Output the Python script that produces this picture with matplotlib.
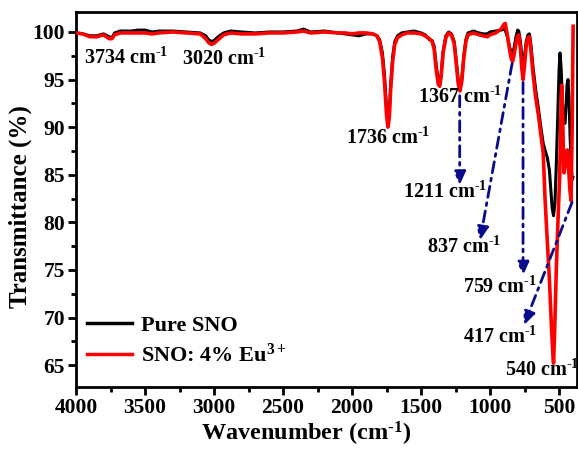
import matplotlib
matplotlib.use("Agg")
import matplotlib.pyplot as plt
from matplotlib.ticker import MultipleLocator

plt.rcParams['font.family'] = ['Liberation Serif', 'DejaVu Serif']
plt.rcParams['font.weight'] = 'bold'
plt.rcParams['mathtext.fontset'] = 'custom'
plt.rcParams['mathtext.rm'] = 'Liberation Serif:bold'
plt.rcParams['mathtext.bf'] = 'Liberation Serif:bold'
plt.rcParams['mathtext.it'] = 'Liberation Serif:bold'
plt.rcParams['mathtext.default'] = 'rm'

# ---------------- data ----------------
wn_pure = [4000, 3950, 3900, 3850, 3800, 3760, 3740, 3720, 3680, 3600, 3550, 3500,
           3450, 3400, 3300, 3200, 3100, 3060, 3040, 3020, 3000, 2970, 2930, 2880,
           2800, 2700, 2600, 2500, 2400, 2350, 2300, 2200, 2100, 2050, 2000, 1950,
           1900, 1850, 1820, 1800, 1780, 1765, 1750, 1740, 1730, 1720, 1705, 1690,
           1670, 1640, 1600, 1550, 1500, 1470, 1440, 1420, 1405, 1390, 1375, 1365,
           1355, 1340, 1320, 1300, 1280, 1260, 1245, 1230, 1218, 1205, 1190, 1175,
           1160, 1120, 1080, 1050, 1020, 1000, 960, 920, 900, 890, 875, 860, 848,
           837, 826, 812, 800, 792, 780, 770, 761, 750, 738, 725, 715, 705, 690,
           670, 650, 630, 615, 600, 585, 570, 560, 550, 540, 530, 520, 510, 500,
           493, 485, 475, 465, 457, 450, 442, 435, 428, 420, 412, 405, 400]
t_pure = [99.9, 99.8, 99.6, 99.6, 99.8, 99.5, 99.4, 99.9, 100.1, 100.1, 100.2, 100.2,
          100.0, 100.1, 100.1, 100.0, 99.9, 99.6, 99.2, 99.0, 99.1, 99.5, 99.9, 100.1,
          100.0, 99.9, 100.0, 100.0, 100.1, 100.3, 100.0, 100.1, 99.9, 99.8, 99.7, 99.6,
          99.8, 99.8, 99.6, 99.2, 97.8, 95.5, 92.0, 90.5, 91.5, 94.5, 97.5, 99.0,
          99.6, 99.9, 100.0, 100.1, 99.9, 99.7, 99.2, 99.1, 98.5, 96.5, 94.8, 94.5,
          95.5, 98.0, 99.6, 100.0, 99.8, 99.0, 97.0, 94.8, 94.0, 95.0, 97.5, 99.2,
          99.9, 100.1, 99.9, 99.8, 99.8, 100.0, 100.1, 100.2, 100.3, 100.2, 99.5, 98.5, 97.9,
          97.8, 98.3, 99.5, 100.2, 100.1, 99.0, 97.5, 96.7, 97.5, 99.0, 99.7, 99.8, 98.8, 96.5,
          94.0, 92.0, 89.8, 88.3, 87.5, 86.8, 85.5, 83.5, 81.5, 80.7, 82.0, 86.0, 91.0, 96.0,
          97.8, 96.2, 92.5, 90.6, 90.4, 92.0, 94.5, 95.0, 93.0, 89.0, 86.0, 84.5, 84.7]

wn_eu = [4000, 3950, 3900, 3850, 3800, 3760, 3740, 3720, 3680, 3600, 3550, 3500,
         3450, 3400, 3300, 3200, 3100, 3060, 3040, 3020, 3000, 2970, 2930, 2880,
         2800, 2700, 2600, 2500, 2400, 2350, 2300, 2200, 2100, 2050, 2000, 1950,
         1900, 1850, 1820, 1800, 1780, 1765, 1750, 1740, 1730, 1720, 1705, 1690,
         1670, 1640, 1600, 1550, 1500, 1470, 1440, 1420, 1405, 1390, 1375, 1365,
         1355, 1340, 1320, 1300, 1280, 1260, 1245, 1230, 1218, 1205, 1190, 1175,
         1160, 1120, 1080, 1050, 1020, 1000, 960, 920, 900, 890, 875, 860, 848,
         837, 826, 812, 800, 792, 780, 770, 761, 750, 738, 725, 715, 705, 690,
         670, 650, 630, 615, 601, 585, 570, 555, 545, 540, 532, 520, 507, 495,
         487, 481, 475, 468, 464, 455, 447, 440, 432, 422, 413, 405, 398]
t_eu = [99.9, 99.8, 99.5, 99.5, 99.7, 99.3, 99.3, 99.7, 99.9, 99.9, 99.9, 99.9,
        99.8, 99.9, 100.0, 99.9, 99.8, 99.3, 98.9, 98.7, 98.8, 99.2, 99.7, 99.9,
        99.8, 99.8, 99.9, 99.9, 100.0, 100.1, 99.9, 100.0, 99.9, 99.9, 99.8, 99.9,
        99.9, 99.8, 99.6, 99.0, 97.3, 94.8, 91.3, 90.0, 91.0, 94.0, 97.0, 98.7,
        99.4, 99.7, 99.9, 99.9, 99.8, 99.6, 99.3, 99.0, 98.2, 96.0, 94.5, 94.3,
        95.2, 97.8, 99.4, 99.9, 99.7, 98.8, 96.7, 94.5, 93.8, 94.8, 97.3, 99.0,
        99.7, 99.9, 99.7, 99.6, 99.5, 99.7, 99.9, 100.3, 100.8, 100.9, 99.7, 98.3, 97.3,
        96.9, 97.6, 98.8, 99.6, 99.7, 98.3, 96.2, 95.0, 96.5, 98.6, 99.4, 99.5, 98.2, 95.8,
        93.2, 91.3, 89.0, 87.3, 82.3, 78.0, 74.0, 69.0, 66.2, 65.2, 68.5, 75.0, 80.5, 85.0,
        91.0, 94.4, 92.0, 87.0, 85.2, 86.0, 87.5, 87.6, 86.0, 83.5, 82.3, 90.0, 100.6]

series_labels = ['Pure SNO', 'SNO: 4% Eu$^{3+}$']
peak_labels = ['3734', '3020', '1736', '1367', '1211', '837', '759', '417', '540']

# ---------------- layout ----------------
fig = plt.figure(figsize=(5.78, 4.49), dpi=100)
ax = fig.add_axes([76/578, 62/449, 501/578, 375/449])

ax.plot(wn_pure, t_pure, color='black', lw=2.2, label=series_labels[0],
        solid_joinstyle='round', zorder=3)
ax.plot(wn_eu, t_eu, color='#ff0000', lw=2.6, label=series_labels[1],
        solid_joinstyle='round', zorder=4)

ax.set_xlim(4000, 370)
ax.set_ylim(62.7, 102.1)
ax.xaxis.set_major_locator(MultipleLocator(500))
ax.xaxis.set_minor_locator(MultipleLocator(250))
ax.yaxis.set_major_locator(MultipleLocator(5))
ax.yaxis.set_minor_locator(MultipleLocator(2.5))
ax.tick_params(which='both', direction='out', top=False, right=False, width=2)
ax.tick_params(which='major', length=6, labelsize=15.5, pad=2)
ax.tick_params(which='minor', length=3.5)
for lab in ax.get_xticklabels() + ax.get_yticklabels():
    lab.set_fontweight('bold')
for sp in ax.spines.values():
    sp.set_linewidth(2)

ax.set_xlabel(r'Wavenumber (cm$^{\text{-1}}$)', fontsize=17.5, fontweight='bold')
ax.xaxis.set_label_coords(0.46, -0.088)
ax.set_ylabel('Transmittance (%)', fontsize=18, fontweight='bold')
ax.yaxis.set_label_coords(-0.088, 0.48)

leg = ax.legend(loc='lower left', bbox_to_anchor=(0.005, 0.03), frameon=False,
                fontsize=16, handlelength=2.0, handletextpad=0.4, labelspacing=0.35,
                borderaxespad=0)
for t in leg.get_texts():
    t.set_fontweight('bold')
for h in leg.get_lines():
    h.set_linewidth(2.5)

# peak labels (text position in data coords, left/baseline)
label_pos = [(3942, 96.7), (3232, 96.5), (2044, 88.2), (1522, 92.6), (1631, 82.6),
             (1457, 76.8), (1196, 72.6), (1196, 67.3), (891, 63.9)]
for lab, (x, y) in zip(peak_labels, label_pos):
    ax.text(x, y, lab + r' cm$^{\text{-1}}$', fontsize=14.5, fontweight='bold',
            ha='left', va='baseline', zorder=6)

# dash-dot arrows
arrow_color = '#0a0a8c'
arrows = [((1220, 93.3), (1220, 83.9)),
          ((840, 96.7), (1073, 78.1)),
          ((761, 94.7), (761, 74.4)),
          ((406, 82.1), (754, 69.2))]
for start, tip in arrows:
    ax.annotate('', xy=tip, xytext=start,
                arrowprops=dict(arrowstyle='-|>,head_length=0.8,head_width=0.35',
                                linestyle=(0, (4, 2, 1, 2)), color=arrow_color,
                                lw=2, shrinkA=0, shrinkB=0),
                zorder=5)

fig.savefig('out.png', dpi=100)
